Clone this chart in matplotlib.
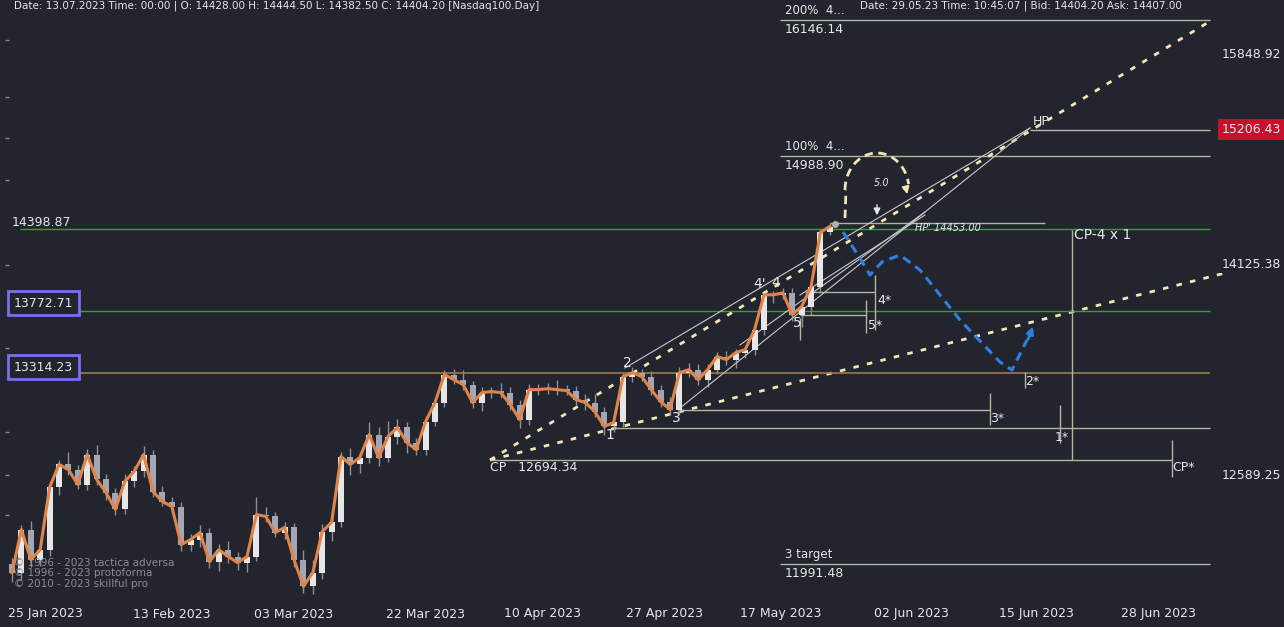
import numpy as np
import matplotlib.pyplot as plt

# daily closes (Nasdaq100, Jan-May 2023)
closes = [11935, 12219, 12020, 12085, 12504, 12662, 12627, 12524, 12731, 12559,
          12469, 12354, 12545, 12614, 12731, 12476, 12408, 12374, 12119, 12152,
          12199, 12007, 12085, 12040, 12000, 12040, 12320, 12307, 12199, 12233,
          12020, 11845, 11935, 12206, 12267, 12717, 12662, 12710, 12871, 12710,
          12857, 12921, 12815, 12765, 12963, 13098, 13300, 13263, 13227, 13098,
          13170, 13177, 13170, 13084, 12977, 13191, 13191, 13198, 13191, 13184,
          13119, 13098, 13034, 12928, 12956, 13285, 13314, 13285, 13191, 13105,
          13048, 13314, 13336, 13263, 13336, 13432, 13410, 13461, 13483, 13632,
          13893, 13893, 13908, 13744, 13804, 13953, 14375, 14422]
wick_up = [40, 30, 60, 30, 40, 30, 90, 30, 40, 70, 40, 30, 50, 40, 60, 30, 40, 30, 30, 40,
           50, 30, 40, 60, 30, 30, 120, 50, 30, 40, 30, 60, 80, 50, 40, 30, 60, 40, 90, 50,
           110, 60, 40, 30, 40, 30, 30, 40, 70, 30, 40, 30, 60, 40, 30, 40, 40, 40, 60, 30,
           30, 40, 60, 30, 20, 30, 40, 30, 40, 30, 30, 40, 50, 40, 40, 30, 40, 30, 30, 30,
           30, 30, 40, 40, 30, 40, 30, 30]
wick_dn = [60, 50, 50, 40, 40, 50, 40, 30, 40, 40, 50, 40, 30, 40, 40, 40, 30, 50, 40, 40,
           50, 40, 60, 40, 50, 60, 30, 40, 30, 40, 50, 40, 50, 40, 60, 30, 70, 60, 40, 60,
           30, 50, 70, 40, 40, 30, 30, 30, 40, 40, 60, 40, 40, 40, 60, 40, 40, 30, 40, 30,
           40, 50, 40, 60, 40, 30, 40, 30, 40, 40, 40, 30, 30, 40, 50, 30, 40, 60, 40, 40,
           40, 60, 30, 50, 90, 60, 40, 20]

levels_green = [14398.87, 13772.71]
level_orange = 13314.23
cp_level = 12694.34
fib_levels = [("200%  4...", 16146.14), ("100%  4...", 14988.90), ("3 target", 11991.48)]
hp_level = 15206.43
hp2_level = 14453.00
axis_ticks = [15848.92, 14125.38, 12589.25]
date_labels = ["25 Jan 2023", "13 Feb 2023", "03 Mar 2023", "22 Mar 2023", "10 Apr 2023",
               "27 Apr 2023", "17 May 2023", "02 Jun 2023", "15 Jun 2023", "28 Jun 2023"]
date_pos = [3.5, 17, 30, 44, 56.4, 69.4, 81.8, 95.7, 109, 122]

BG = "#22252d"
CREAM = "#f3e6b4"
TAN = "#b8b2a0"
WHITE = "#e6e6e6"

def X(px):
    return (px - 12) / 9.4

def Y(py):
    return 10 ** (4.2 - (py - 54) / 4210)

fig = plt.figure(figsize=(12.84, 6.27), dpi=100, facecolor=BG)
ax = fig.add_axes([0, 0, 1, 1], facecolor=BG)
ax.set_yscale("log")
ax.set_xlim(X(0), X(1284))
ax.set_ylim(Y(627), Y(0))
ax.axis("off")

# candles
n = len(closes)
opens = [11990] + closes[:-1]
for k in range(n):
    o, c = opens[k], closes[k]
    up = c >= o
    ax.vlines(k, min(o, c) - wick_dn[k], max(o, c) + wick_up[k], color="#8c8e98", lw=1, zorder=2)
    lo, hi = min(o, c), max(o, c)
    if hi - lo < 8:
        hi = lo + 8
    ax.bar(k, hi - lo, bottom=lo, width=0.62, color=WHITE if up else "#a4a6b4", zorder=3)
ax.plot(range(n), closes, color="#e0844a", lw=2.2, zorder=4)
ax.plot(n - 1 + 0.5, 14440, "o", color="#b0b0b0", ms=4, zorder=5)

# horizontal levels
for lv in levels_green:
    ax.hlines(lv, X(20), X(1210), color="#3f9a3a", lw=1)
ax.hlines(level_orange, X(20), X(1210), color="#a07a48", lw=1.2)
for lab, lv in fib_levels:
    ax.hlines(lv, X(780), X(1210), color=TAN, lw=1)
    ax.text(X(785), lv * 1.0014, lab, color=WHITE, fontsize=8.5, va="bottom")
    ax.text(X(785), lv * 0.9985, f"{lv:.2f}", color=WHITE, fontsize=9, va="top")
ax.hlines(hp_level, X(1030), X(1210), color=TAN, lw=1)
ax.text(X(1033), hp_level * 1.001, "HP", color=WHITE, fontsize=9, va="bottom")
ax.hlines(hp2_level, X(830), X(1045), color=TAN, lw=1)
ax.text(X(915), hp2_level * 0.9995, "HP' 14453.00", color=WHITE, fontsize=7, va="top", style="italic")

# CP and wave projection lines
ax.hlines(cp_level, X(490), X(1172), color=TAN, lw=1)
ax.vlines(X(1172), Y(440), Y(477), color=TAN, lw=1)
ax.text(X(1172), Y(467), "CP*", color=WHITE, fontsize=9, va="center")
ax.text(X(490), Y(467), "CP   12694.34", color=WHITE, fontsize=9, va="center")
ax.hlines(Y(428), X(615), X(1210), color=TAN, lw=1)
ax.vlines(X(1060), Y(405), Y(443), color=TAN, lw=1)
ax.text(X(1055), Y(437), "1*", color=WHITE, fontsize=9, va="center")
ax.hlines(Y(410), X(680), X(990), color=TAN, lw=1)
ax.vlines(X(990), Y(393), Y(425), color=TAN, lw=1)
ax.text(X(990), Y(418), "3*", color=WHITE, fontsize=9, va="center")
ax.vlines(X(1025), Y(372), Y(388), color=TAN, lw=1)
ax.text(X(1025), Y(381), "2*", color=WHITE, fontsize=9, va="center")
ax.hlines(Y(292), X(805), X(875), color=TAN, lw=1)
ax.vlines(X(875), Y(275), Y(330), color=TAN, lw=1)
ax.text(X(877), Y(300), "4*", color=WHITE, fontsize=9, va="center")
ax.hlines(Y(315), X(800), X(866), color=TAN, lw=1)
ax.vlines(X(866), Y(300), Y(333), color=TAN, lw=1)
ax.text(X(868), Y(325), "5*", color=WHITE, fontsize=9, va="center")
ax.vlines(X(800), Y(318), Y(340), color=TAN, lw=1)
ax.vlines(X(1072), Y(230), cp_level, color=TAN, lw=1)
ax.text(X(1074), Y(235), "CP-4 x 1", color=WHITE, fontsize=10, va="center")

# trend lines
ax.plot([X(490), X(1212)], [Y(460), Y(20)], color=CREAM, lw=2, ls=(0, (2, 3)))
ax.plot([X(490), X(1284)], [Y(460), Y(258)], color=CREAM, lw=2, ls=(0, (2, 3)), zorder=1)
for (x0, y0), (x1, y1) in [((625, 368), (1030, 128)), ((680, 408), (1030, 128)),
                           ((740, 345), (925, 212)), ((800, 295), (925, 215))]:
    ax.plot([X(x0), X(x1)], [Y(y0), Y(y1)], color="#c8c8c8", lw=0.8)

# wave labels
for lab, px, py in [("1", 610, 435), ("2", 627, 363), ("3", 676, 418), ("4'", 760, 284),
                    ("4", 776, 283), ("5", 797, 323)]:
    ax.text(X(px), Y(py), lab, color=WHITE, fontsize=10, ha="center", va="center")

# projection arrows
ang = np.linspace(np.pi, np.pi * 0.05, 40)
ax.plot(X(877) + (np.cos(ang) * 32) / 9.4, Y(190 - np.sin(ang) * 37),
        color=CREAM, lw=2, ls=(0, (3, 2)))
ax.plot([X(845), X(846)], [Y(218), Y(190)], color=CREAM, lw=2, ls=(0, (3, 2)))
ax.annotate("", xy=(X(908), Y(197)), xytext=(X(905), Y(184)),
            arrowprops=dict(arrowstyle="-|>", color=CREAM, lw=1.5))
ax.text(X(874), Y(186), "5.0", color=WHITE, fontsize=7, style="italic")
ax.annotate("", xy=(X(877), Y(218)), xytext=(X(877), Y(202)),
            arrowprops=dict(arrowstyle="-|>", color=WHITE, lw=1))
bx = [X(843), X(858), X(870), X(882), X(900), X(920), X(960), X(1000), X(1012), X(1027)]
by = [Y(232), Y(255), Y(275), Y(262), Y(255), Y(270), Y(320), Y(362), Y(370), Y(340)]
ax.plot(bx, by, color="#2f7fe0", lw=2.2, ls=(0, (3, 2)))
ax.annotate("", xy=(X(1034), Y(324)), xytext=(X(1027), Y(342)),
            arrowprops=dict(arrowstyle="-|>", color="#2f7fe0", lw=2))

# left level labels
ax.text(X(12), Y(222), "14398.87", color=WHITE, fontsize=9, va="center")
for lab, py in [("13772.71", 303), ("13314.23", 367)]:
    ax.text(X(14), Y(py), lab, color=WHITE, fontsize=9, va="center",
            bbox=dict(boxstyle="square,pad=0.45", fc=BG, ec="#7a6ff0", lw=2))
for py in [40, 97, 138, 180, 265, 348, 432, 475, 515]:
    ax.hlines(Y(py), X(5), X(9), color="#888888", lw=1)

# right price axis
for v in axis_ticks:
    ax.text(X(1222), v, f"{v:.2f}", color=WHITE, fontsize=9, va="center",
            bbox=dict(boxstyle="square,pad=0.15", fc=BG, ec="none"))
ax.text(X(1222), hp_level, f"{hp_level:.2f}", color=WHITE, fontsize=9, va="center",
        bbox=dict(boxstyle="square,pad=0.3", fc="#c8102e", ec="none"))

# dates
for p, lab in zip(date_pos, date_labels):
    ax.text(p, Y(614), lab, color=WHITE, fontsize=9, ha="center", va="center")

# header and footer text
ax.text(X(14), Y(0.5), "Date: 13.07.2023 Time: 00:00 | O: 14428.00 H: 14444.50 L: 14382.50 C: 14404.20 [Nasdaq100.Day]",
        color=WHITE, fontsize=7.5, va="top")
ax.text(X(860), Y(0.5), "Date: 29.05.23 Time: 10:45:07 | Bid: 14404.20 Ask: 14407.00",
        color=WHITE, fontsize=7.5, va="top")
for lab, py in [("© 1996 - 2023 tactica adversa", 563), ("© 1996 - 2023 protoforma", 573),
                ("© 2010 - 2023 skillful pro", 584)]:
    ax.text(X(14), Y(py), lab, color="#8a8c94", fontsize=7.5, va="center")

fig.savefig("out.png", dpi=100, facecolor=BG)
